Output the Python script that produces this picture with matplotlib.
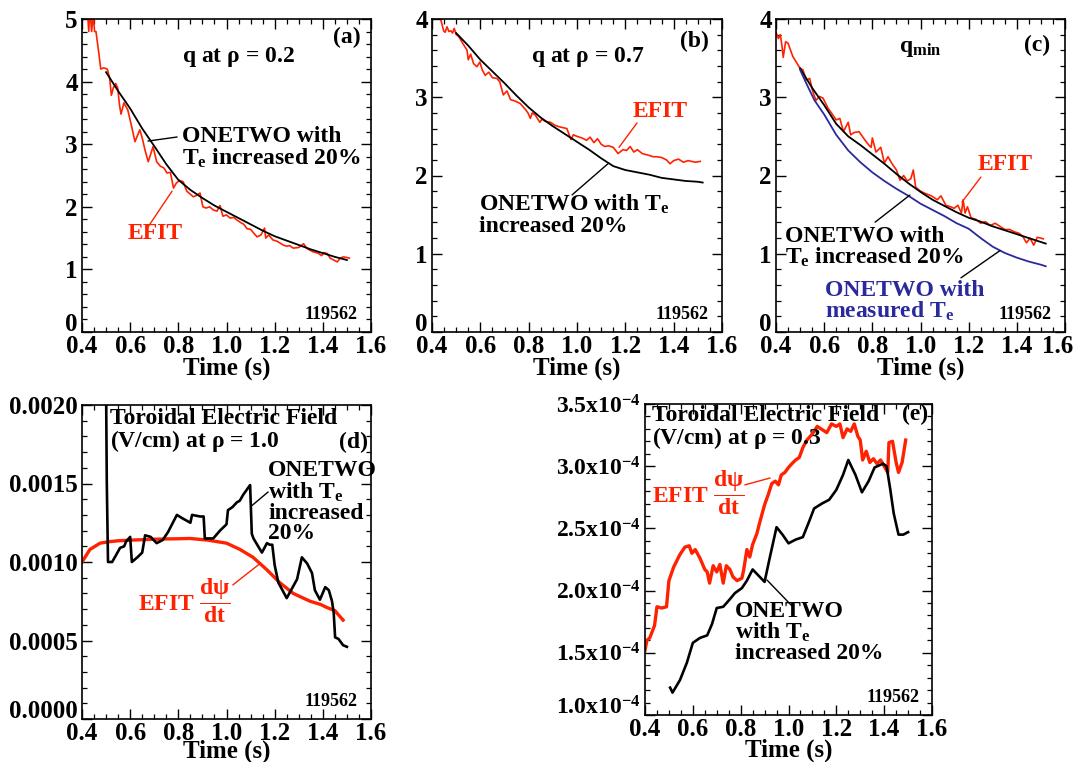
import matplotlib
matplotlib.use("Agg")
import matplotlib.pyplot as plt
from matplotlib.ticker import MultipleLocator, FuncFormatter
from matplotlib.transforms import ScaledTranslation
import numpy as np

# ---------------- data ----------------
# (a) q at rho = 0.2
a_efit_t = [0.420, 0.428, 0.432, 0.440, 0.447, 0.452, 0.458, 0.470, 0.478, 0.490, 0.505, 0.515, 0.522, 0.530,
            0.540, 0.548, 0.556, 0.562, 0.574, 0.590, 0.605, 0.620, 0.640, 0.650, 0.662, 0.675, 0.695, 0.710,
            0.725, 0.740, 0.753, 0.767, 0.780, 0.792, 0.805, 0.820, 0.835, 0.850, 0.862, 0.875, 0.890, 0.902,
            0.915, 0.930, 0.945, 0.960, 0.973, 0.985, 1.000, 1.015, 1.030, 1.043, 1.058, 1.072, 1.085, 1.100,
            1.113, 1.127, 1.143, 1.158, 1.163, 1.175, 1.193, 1.210, 1.235, 1.250, 1.262, 1.277, 1.300, 1.320,
            1.335, 1.360, 1.380, 1.395, 1.405, 1.420, 1.430, 1.445, 1.460, 1.472, 1.485, 1.500, 1.510]
a_efit_q = [5.30, 4.80, 5.20, 4.80, 5.10, 4.80, 4.80, 4.45, 4.20, 4.22, 4.20, 4.05, 3.78, 3.90,
            3.97, 3.90, 3.62, 3.48, 3.66, 3.55, 3.30, 3.04, 3.23, 3.10, 2.90, 2.72, 2.96, 2.72,
            2.65, 2.62, 2.54, 2.55, 2.30, 2.38, 2.42, 2.40, 2.25, 2.20, 2.16, 2.18, 2.22, 2.00,
            1.98, 2.00, 1.95, 1.93, 2.02, 1.85, 1.87, 1.82, 1.83, 1.79, 1.75, 1.72, 1.65, 1.64,
            1.58, 1.52, 1.55, 1.66, 1.50, 1.55, 1.47, 1.45, 1.39, 1.37, 1.38, 1.34, 1.35, 1.41,
            1.33, 1.28, 1.26, 1.22, 1.27, 1.25, 1.18, 1.15, 1.12, 1.18, 1.20, 1.19, 1.18]
a_onetwo_t = [0.50, 0.55, 0.60, 0.65, 0.70, 0.75, 0.80, 0.85, 0.90, 0.95, 1.00, 1.05, 1.10, 1.15, 1.20,
              1.25, 1.30, 1.35, 1.40, 1.45, 1.50]
a_onetwo_q = [4.15, 3.85, 3.57, 3.25, 2.97, 2.68, 2.43, 2.27, 2.14, 2.02, 1.92, 1.82, 1.72, 1.62, 1.53,
              1.46, 1.39, 1.32, 1.26, 1.20, 1.15]

# (b) q at rho = 0.7
b_efit_t = [0.433, 0.440, 0.448, 0.454, 0.462, 0.470, 0.478, 0.485, 0.492, 0.500, 0.510, 0.525, 0.545, 0.550,
            0.560, 0.572, 0.586, 0.598, 0.608, 0.620, 0.635, 0.650, 0.668, 0.680, 0.695, 0.710, 0.725, 0.745,
            0.765, 0.785, 0.797, 0.807, 0.815, 0.828, 0.846, 0.855, 0.870, 0.890, 0.910, 0.930, 0.958, 0.975,
            0.985, 1.000, 1.020, 1.040, 1.054, 1.070, 1.085, 1.100, 1.115, 1.130, 1.150, 1.170, 1.190, 1.205,
            1.220, 1.235, 1.250, 1.270, 1.295, 1.315, 1.330, 1.350, 1.370, 1.385, 1.400, 1.420, 1.440, 1.460,
            1.490, 1.510]
b_efit_q = [4.02, 3.95, 3.85, 3.83, 3.90, 3.84, 3.85, 3.82, 3.88, 3.80, 3.78, 3.70, 3.60, 3.48,
            3.55, 3.43, 3.39, 3.45, 3.35, 3.28, 3.32, 3.25, 3.24, 3.20, 3.03, 3.08, 2.97, 2.95,
            2.92, 2.85, 2.80, 2.73, 2.80, 2.77, 2.68, 2.72, 2.69, 2.68, 2.64, 2.62, 2.60, 2.46,
            2.52, 2.50, 2.48, 2.45, 2.49, 2.42, 2.47, 2.40, 2.37, 2.38, 2.36, 2.28, 2.33, 2.32,
            2.37, 2.30, 2.33, 2.28, 2.26, 2.24, 2.24, 2.23, 2.20, 2.15, 2.19, 2.21, 2.17, 2.19,
            2.17, 2.18]
b_onetwo_t = [0.50, 0.55, 0.60, 0.65, 0.70, 0.75, 0.80, 0.85, 0.90, 0.95, 1.00, 1.05, 1.10, 1.15, 1.20,
              1.25, 1.30, 1.35, 1.40, 1.45, 1.50, 1.52]
b_onetwo_q = [3.82, 3.66, 3.48, 3.33, 3.18, 3.02, 2.87, 2.74, 2.63, 2.53, 2.43, 2.33, 2.22, 2.12, 2.07,
              2.04, 2.01, 1.97, 1.95, 1.93, 1.92, 1.91]

# (c) q_min
c_efit_t = [0.400, 0.410, 0.418, 0.425, 0.430, 0.440, 0.450, 0.470, 0.490, 0.500, 0.512, 0.525, 0.540, 0.552,
            0.566, 0.580, 0.595, 0.616, 0.630, 0.650, 0.665, 0.680, 0.700, 0.710, 0.725, 0.745, 0.770, 0.785,
            0.795, 0.800, 0.815, 0.835, 0.850, 0.865, 0.880, 0.900, 0.915, 0.930, 0.945, 0.960, 0.970, 0.980,
            1.000, 1.020, 1.045, 1.070, 1.085, 1.105, 1.125, 1.140, 1.155, 1.170, 1.177, 1.185, 1.195, 1.210,
            1.230, 1.250, 1.270, 1.290, 1.310, 1.330, 1.350, 1.370, 1.390, 1.410, 1.425, 1.440, 1.455, 1.470,
            1.485, 1.500, 1.510]
c_efit_q = [3.83, 3.75, 3.80, 3.65, 3.51, 3.71, 3.69, 3.52, 3.42, 3.37, 3.35, 3.22, 3.24, 3.08,
            2.96, 3.01, 2.99, 2.86, 2.80, 2.71, 2.73, 2.56, 2.68, 2.52, 2.55, 2.56, 2.45, 2.39,
            2.36, 2.48, 2.30, 2.36, 2.16, 2.24, 2.16, 2.07, 1.94, 2.00, 1.93, 1.96, 2.07, 1.85,
            1.80, 1.77, 1.74, 1.69, 1.74, 1.62, 1.60, 1.58, 1.62, 1.52, 1.69, 1.52, 1.60, 1.46,
            1.44, 1.39, 1.41, 1.36, 1.39, 1.35, 1.31, 1.31, 1.28, 1.26, 1.22, 1.14, 1.20, 1.11,
            1.21, 1.20, 1.19]
c_onetwo_t = [0.50, 0.55, 0.60, 0.65, 0.70, 0.75, 0.80, 0.85, 0.90, 0.95, 1.00, 1.05, 1.10, 1.15, 1.20,
              1.25, 1.30, 1.35, 1.40, 1.45, 1.50, 1.52]
c_onetwo_q = [3.37, 3.12, 2.90, 2.66, 2.50, 2.39, 2.27, 2.15, 2.02, 1.90, 1.79, 1.69, 1.61, 1.53, 1.46,
              1.41, 1.35, 1.30, 1.25, 1.20, 1.15, 1.13]
c_meas_t = [0.50, 0.53, 0.56, 0.60, 0.65, 0.70, 0.75, 0.80, 0.85, 0.90, 0.95, 1.00, 1.05, 1.10, 1.15,
            1.20, 1.25, 1.30, 1.35, 1.40, 1.45, 1.50, 1.52]
c_meas_q = [3.35, 3.15, 2.96, 2.78, 2.52, 2.32, 2.17, 2.04, 1.93, 1.83, 1.74, 1.64, 1.56, 1.48, 1.39,
            1.32, 1.20, 1.09, 1.01, 0.95, 0.90, 0.86, 0.84]

# (d) toroidal electric field at rho = 1.0 (V/cm)
d_efit_t = [0.400, 0.433, 0.475, 0.516, 0.550, 0.612, 0.700, 0.752, 0.800, 0.848, 0.918, 0.960, 1.000,
            1.056, 1.110, 1.168, 1.220, 1.277, 1.347, 1.390, 1.417, 1.450, 1.484]
d_efit_e = [0.00100, 0.00108, 0.00112, 0.00113, 0.001135, 0.00114, 0.001145, 0.001147, 0.001148,
            0.00115, 0.00114, 0.00113, 0.00112, 0.00108, 0.00103, 0.00095, 0.00087, 0.00080,
            0.00075, 0.00073, 0.00071, 0.00069, 0.00063]
d_onetwo_t = [0.500, 0.503, 0.508, 0.525, 0.540, 0.558, 0.575, 0.583, 0.600, 0.607, 0.630, 0.650, 0.662,
              0.685, 0.710, 0.735, 0.757, 0.794, 0.815, 0.850, 0.857, 0.890, 0.905, 0.910, 0.945, 0.973,
              1.000, 1.006, 1.025, 1.043, 1.055, 1.070, 1.098, 1.105, 1.112, 1.147, 1.168, 1.180, 1.190,
              1.200, 1.215, 1.250, 1.275, 1.293, 1.313, 1.335, 1.355, 1.367, 1.388, 1.410, 1.425, 1.438,
              1.445, 1.451, 1.465, 1.484, 1.500]
d_onetwo_e = [0.00210, 0.00150, 0.00100, 0.00100, 0.00104, 0.00109, 0.00110, 0.00113, 0.00116, 0.00100,
              0.00103, 0.00106, 0.00117, 0.00116, 0.00112, 0.00114, 0.00119, 0.00130, 0.00128, 0.00125,
              0.00130, 0.00129, 0.00129, 0.00115, 0.00115, 0.00120, 0.00124, 0.00133, 0.00135, 0.00138,
              0.00139, 0.00143, 0.00149, 0.00118, 0.00115, 0.00106, 0.00112, 0.00111, 0.00111, 0.00098,
              0.00087, 0.00077, 0.00084, 0.00089, 0.00103, 0.00099, 0.00093, 0.00082, 0.00076, 0.00084,
              0.00082, 0.00075, 0.00068, 0.00052, 0.00051, 0.00047, 0.00046]

# (e) toroidal electric field at rho = 0.3 (units of 1e-4 V/cm)
e_efit_t = [0.400, 0.408, 0.420, 0.440, 0.450, 0.470, 0.490, 0.500, 0.520, 0.546, 0.567, 0.585, 0.596,
            0.610, 0.630, 0.650, 0.660, 0.670, 0.685, 0.700, 0.713, 0.727, 0.740, 0.755, 0.768, 0.785,
            0.805, 0.812, 0.826, 0.838, 0.850, 0.868, 0.880, 0.900, 0.915, 0.930, 0.945, 0.958, 0.970,
            0.985, 1.000, 1.014, 1.030, 1.045, 1.060, 1.077, 1.100, 1.120, 1.144, 1.160, 1.180, 1.200,
            1.215, 1.228, 1.245, 1.260, 1.275, 1.290, 1.300, 1.310, 1.325, 1.340, 1.355, 1.370, 1.385,
            1.400, 1.415, 1.420, 1.435, 1.450, 1.460, 1.475, 1.490]
e_efit_e = [1.52, 1.60, 1.62, 1.72, 1.87, 1.86, 1.87, 2.08, 2.19, 2.29, 2.35, 2.36, 2.30,
            2.33, 2.26, 2.17, 2.15, 2.06, 2.20, 2.15, 2.21, 2.06, 2.20, 2.17, 2.11, 2.08,
            2.10, 2.16, 2.33, 2.27, 2.37, 2.46, 2.55, 2.69, 2.77, 2.86, 2.88, 2.85, 2.93,
            2.95, 2.99, 3.02, 3.05, 3.07, 3.15, 3.21, 3.26, 3.32, 3.29, 3.27, 3.34, 3.32,
            3.34, 3.23, 3.30, 3.28, 3.34, 3.24, 3.21, 3.05, 3.12, 3.03, 3.06, 3.02, 3.05,
            3.00, 2.95, 3.19, 3.20, 3.03, 2.95, 3.03, 3.21]
e_onetwo_t = [0.505, 0.515, 0.546, 0.575, 0.600, 0.630, 0.660, 0.680, 0.700, 0.727, 0.750, 0.776, 0.805,
              0.826, 0.850, 0.875, 0.900, 0.920, 0.950, 0.975, 1.000, 1.030, 1.060, 1.085, 1.107, 1.140,
              1.170, 1.200, 1.228, 1.250, 1.280, 1.307, 1.335, 1.360, 1.395, 1.410, 1.425, 1.440, 1.460,
              1.480, 1.500]
e_onetwo_e = [1.22, 1.18, 1.28, 1.42, 1.58, 1.62, 1.64, 1.73, 1.86, 1.87, 1.92, 1.98, 2.02,
              2.08, 2.17, 2.12, 2.07, 2.25, 2.51, 2.45, 2.38, 2.41, 2.43, 2.55, 2.66, 2.70,
              2.73, 2.81, 2.93, 3.05, 2.93, 2.79, 2.88, 2.99, 3.02, 3.00, 2.82, 2.62, 2.45,
              2.45, 2.47]
e_scale = 1e-4

shot = "119562"
x_ticks = [0.4, 0.6, 0.8, 1.0, 1.2, 1.4, 1.6]
a_yticks = [0, 1, 2, 3, 4, 5]
bc_yticks = [0, 1, 2, 3, 4]
d_yticks = [0.0, 0.0005, 0.0010, 0.0015, 0.0020]
e_yticks = [1.0e-4, 1.5e-4, 2.0e-4, 2.5e-4, 3.0e-4, 3.5e-4]

# ---------------- style ----------------
RED = "#ff2200"
BLUE = "#2a2a9c"
FS = 17      # annotation text
TFS = 18     # tick labels / axis label

plt.rcParams.update({
    "font.family": ["Liberation Serif", "DejaVu Serif"],
    "font.weight": "bold",
    "mathtext.fontset": "custom",
    "mathtext.rm": "Liberation Serif:bold",
    "mathtext.it": "Liberation Serif:bold",
    "mathtext.bf": "Liberation Serif:bold",
    "mathtext.sf": "Liberation Serif:bold",
    "axes.linewidth": 1.2,
    "xtick.direction": "in",
    "ytick.direction": "in",
    "xtick.top": True,
    "ytick.right": True,
    "xtick.major.size": 7,
    "ytick.major.size": 7,
    "xtick.minor.size": 3.5,
    "ytick.minor.size": 3.5,
    "xtick.major.width": 1.0,
    "ytick.major.width": 1.0,
    "xtick.minor.width": 0.9,
    "ytick.minor.width": 0.9,
    "xtick.labelsize": TFS,
    "ytick.labelsize": TFS,
    "xtick.major.pad": 2,
    "ytick.major.pad": 3,
})

W, H = 1078, 762
fig = plt.figure(figsize=(W / 100, H / 100), dpi=100)
axes_all = []


def add_ax(x0, y0, x1, y1):
    ax = fig.add_axes([x0 / W, 1 - y1 / H, (x1 - x0) / W, (y1 - y0) / H])
    axes_all.append(ax)
    return ax


def base(ax, ylim, yticks, ymin, labelpad=-1):
    ax.set_xlim(0.4, 1.6)
    ax.set_xticks(x_ticks)
    ax.xaxis.set_minor_locator(MultipleLocator(0.05))
    ax.xaxis.set_major_formatter(FuncFormatter(lambda v, p: f"{v:.1f}"))
    ax.set_ylim(*ylim)
    ax.set_yticks(yticks)
    ax.yaxis.set_minor_locator(MultipleLocator(ymin))
    ax.set_xlabel("Time (s)", fontsize=TFS, fontweight="bold", labelpad=labelpad)
    ax.text(0.955, 0.055, shot, transform=ax.transAxes, ha="right", va="center", fontsize=13)


def leader(ax, xy, xytext, color):
    ax.annotate("", xy=xy, xycoords="data", xytext=xytext, textcoords="axes fraction",
                arrowprops=dict(arrowstyle="-", color=color, lw=1.0, shrinkA=0, shrinkB=0))


# ---------------- (a) ----------------
ax = add_ax(82, 19, 371, 332)
base(ax, (0, 5), a_yticks, 0.2)
ax.yaxis.set_major_formatter(FuncFormatter(lambda v, p: f"{v:.0f}"))
ax.plot(a_efit_t, a_efit_q, color=RED, lw=1.2)
ax.plot(a_onetwo_t, a_onetwo_q, color="black", lw=1.3)
ax.text(0.54, 0.879, r"q at $\rho$ = 0.2", transform=ax.transAxes, ha="center", va="center", fontsize=FS)
ax.text(0.965, 0.94, "(a)", transform=ax.transAxes, ha="right", va="center", fontsize=FS)
ax.text(0.346, 0.588, "ONETWO with\nT$_{\\rm e}$ increased 20%", transform=ax.transAxes,
        ha="left", va="center", fontsize=FS, linespacing=0.95)
leader(ax, (0.674, 3.05), (0.329, 0.623), "black")
ax.text(0.253, 0.316, "EFIT", transform=ax.transAxes, ha="center", va="center", fontsize=FS, color=RED)
leader(ax, (0.774, 2.25), (0.228, 0.335), RED)

# ---------------- (b) ----------------
ax = add_ax(432, 19, 722, 332)
base(ax, (0, 4), bc_yticks, 0.2)
ax.yaxis.set_major_formatter(FuncFormatter(lambda v, p: f"{v:.0f}"))
ax.plot(b_efit_t, b_efit_q, color=RED, lw=1.2)
ax.plot(b_onetwo_t, b_onetwo_q, color="black", lw=1.3)
ax.text(0.538, 0.879, r"q at $\rho$ = 0.7", transform=ax.transAxes, ha="center", va="center", fontsize=FS)
ax.text(0.955, 0.927, "(b)", transform=ax.transAxes, ha="right", va="center", fontsize=FS)
ax.text(0.786, 0.703, "EFIT", transform=ax.transAxes, ha="center", va="center", fontsize=FS, color=RED)
leader(ax, (1.174, 2.36), (0.707, 0.668), RED)
ax.text(0.162, 0.374, "ONETWO with T$_{\\rm e}$\nincreased 20%", transform=ax.transAxes,
        ha="left", va="center", fontsize=FS, linespacing=0.95)
leader(ax, (1.128, 2.15), (0.483, 0.438), "black")

# ---------------- (c) ----------------
ax_c = ax = add_ax(776, 19, 1065, 332)
base(ax, (0, 4), bc_yticks, 0.2)
ax.yaxis.set_major_formatter(FuncFormatter(lambda v, p: f"{v:.0f}"))
ax.plot(c_efit_t, c_efit_q, color=RED, lw=1.2)
ax.plot(c_onetwo_t, c_onetwo_q, color="black", lw=1.3)
ax.plot(c_meas_t, c_meas_q, color=BLUE, lw=1.3)
ax.text(0.498, 0.907, "q$_{\\rm min}$", transform=ax.transAxes, ha="center", va="center", fontsize=FS)
ax.text(0.948, 0.917, "(c)", transform=ax.transAxes, ha="right", va="center", fontsize=FS)
ax.text(0.792, 0.534, "EFIT", transform=ax.transAxes, ha="center", va="center", fontsize=FS, color=RED)
leader(ax, (1.172, 1.66), (0.709, 0.495), RED)
ax.text(0.031, 0.270, "ONETWO with\nT$_{\\rm e}$ increased 20%", transform=ax.transAxes,
        ha="left", va="center", fontsize=FS, linespacing=0.95)
leader(ax, (0.956, 1.75), (0.343, 0.351), "black")
ax.text(0.17, 0.097, "ONETWO with\nmeasured T$_{\\rm e}$", transform=ax.transAxes,
        ha="left", va="center", fontsize=FS, linespacing=0.95, color=BLUE)
leader(ax, (1.33, 1.04), (0.640, 0.173), "black")

# ---------------- (d) ----------------
ax = add_ax(82, 405, 371, 719)
base(ax, (0, 0.002), d_yticks, 0.0001, labelpad=-3.5)
ax.yaxis.set_major_formatter(FuncFormatter(lambda v, p: f"{v:.4f}"))
ax.plot(d_efit_t, d_efit_e, color=RED, lw=2.4)
ax.plot(d_onetwo_t, d_onetwo_e, color="black", lw=1.9)
ax.text(0.097, 0.917, "Toroidal Electric Field\n(V/cm) at $\\rho$ = 1.0", transform=ax.transAxes,
        ha="left", va="center", fontsize=FS, linespacing=0.95)
ax.text(0.99, 0.882, "(d)", transform=ax.transAxes, ha="right", va="center", fontsize=FS)
ax.text(0.644, 0.691, "ONETWO\nwith T$_{\\rm e}$\nincreased\n20%", transform=ax.transAxes,
        ha="left", va="center", fontsize=FS, linespacing=0.95)
leader(ax, (1.106, 0.00136), (0.644, 0.723), "black")
ax.text(0.194, 0.375, "EFIT $\\dfrac{d\\psi}{dt}$", transform=ax.transAxes,
        ha="left", va="center", fontsize=FS, color=RED)
leader(ax, (1.139, 0.00099), (0.522, 0.427), RED)

# ---------------- (e) ----------------
ax = add_ax(645, 404, 932, 715)
ax.tick_params(axis="y", labelsize=17)
base(ax, (1.0e-4, 3.5e-4), e_yticks, 0.1e-4, labelpad=-1.5)
ax.yaxis.set_major_formatter(FuncFormatter(lambda v, p: r"$\rm %.1fx10^{-4}$" % (v / e_scale)))
ax.plot(e_efit_t, np.array(e_efit_e) * e_scale, color=RED, lw=2.4)
ax.plot(e_onetwo_t, np.array(e_onetwo_e) * e_scale, color="black", lw=1.9)
ax.text(0.024, 0.924, "Toroidal Electric Field\n(V/cm) at $\\rho$ = 0.3", transform=ax.transAxes,
        ha="left", va="center", fontsize=FS, linespacing=0.95)
ax.text(0.986, 0.965, "(e)", transform=ax.transAxes, ha="right", va="center", fontsize=FS)
ax.text(0.024, 0.714, "EFIT $\\dfrac{d\\psi}{dt}$", transform=ax.transAxes,
        ha="left", va="center", fontsize=FS, color=RED)
leader(ax, (0.923, 2.905e-4), (0.348, 0.740), RED)
ax.text(0.314, 0.265, "ONETWO\nwith T$_{\\rm e}$\nincreased 20%", transform=ax.transAxes,
        ha="left", va="center", fontsize=FS, linespacing=0.95)
leader(ax, (0.91, 2.085e-4), (0.516, 0.347), "black")

# ---- label nudges as in the reference: lowest y label raised, last x label of (c) kept on canvas
for a in axes_all:
    yt = a.yaxis.get_major_ticks()
    lab = yt[0].label1
    lab.set_transform(lab.get_transform() + ScaledTranslation(0, 10 / 100, fig.dpi_scale_trans))
xt = ax_c.xaxis.get_major_ticks()
lab = xt[-1].label1
lab.set_transform(lab.get_transform() + ScaledTranslation(-7 / 100, 0, fig.dpi_scale_trans))

fig.savefig("out.png", dpi=100)
